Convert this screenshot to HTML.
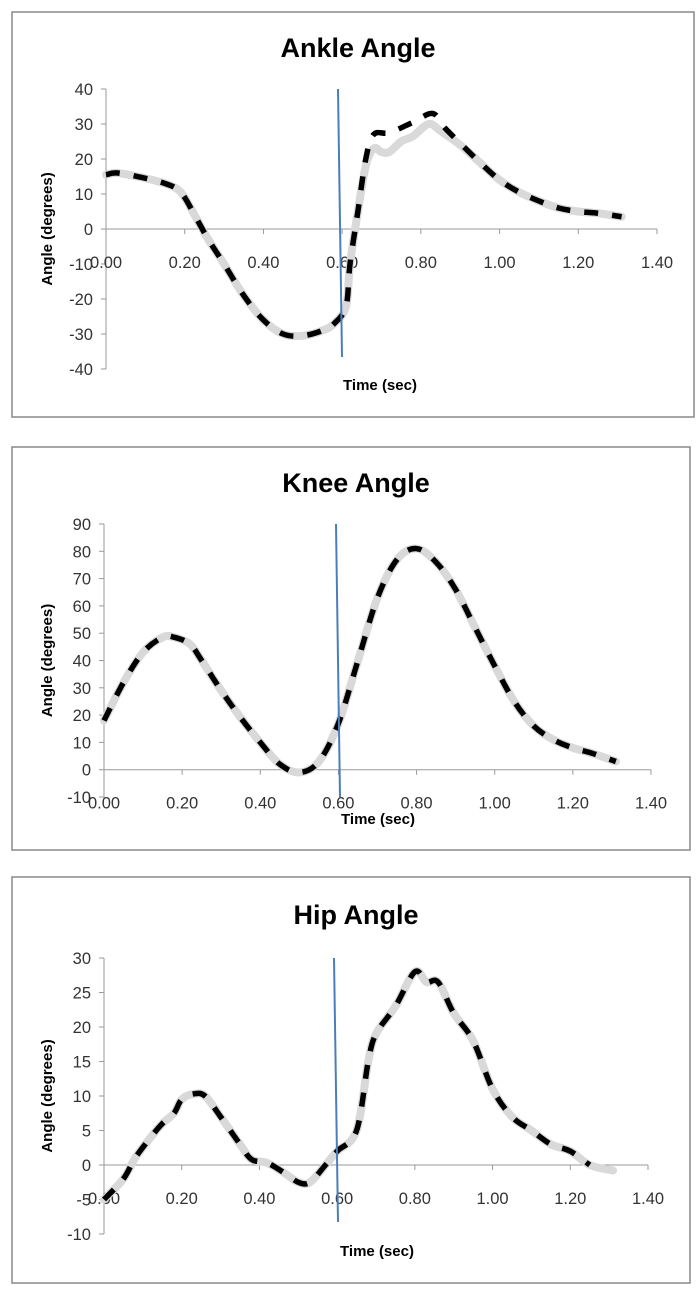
<!DOCTYPE html>
<html><head><meta charset="utf-8">
<style>
body{margin:0;background:#fff;width:700px;height:1295px;overflow:hidden;font-family:"Liberation Sans",sans-serif}
svg{position:absolute;left:0;top:0}
</style></head>
<body>
<svg id="svg" width="700" height="1295"></svg>
<script>
const xTicks=[0,0.2,0.4,0.6,0.8,1.0,1.2,1.4];
const ankleYTicks=[40,30,20,10,0,-10,-20,-30,-40];
const ankleGrayX=[0,0.03,0.1,0.15,0.18,0.2,0.23,0.26,0.3,0.35,0.4,0.45,0.5,0.55,0.58,0.61,0.62,0.64,0.66,0.68,0.7,0.72,0.75,0.78,0.82,0.85,0.9,0.95,1.0,1.05,1.1,1.15,1.2,1.25,1.31];
const ankleGrayY=[15.5,16,14.5,13,11.5,9,3,-3,-10,-19,-26,-30,-30.5,-29,-27,-22,-10,5,18,23,22,22,25,26.5,30,28,24,19,14,10.5,8,6,5,4.5,3.5];
const ankleBlackX=[0,0.03,0.1,0.15,0.18,0.2,0.23,0.26,0.3,0.35,0.4,0.45,0.5,0.55,0.58,0.61,0.62,0.64,0.66,0.68,0.72,0.78,0.83,0.86,0.9,0.95,1.0,1.05,1.1,1.15,1.2,1.25,1.31];
const ankleBlackY=[15.5,16,14.5,13,11.5,9,3,-3,-10,-19,-26,-30,-30.5,-29,-27,-22,-10,5,20,27,27.5,30.5,33,29,24.5,19,14,10.5,8,6,5,4.5,3.5];
const kneeYTicks=[90,80,70,60,50,40,30,20,10,0,-10];
const kneeX=[0,0.05,0.1,0.15,0.18,0.22,0.25,0.3,0.35,0.4,0.45,0.5,0.55,0.6,0.65,0.7,0.75,0.8,0.85,0.9,0.95,1.0,1.05,1.1,1.15,1.2,1.25,1.31];
const kneeY=[18,32,43,48.5,48.5,46,40,29,19,10,2,-1,3,17,40,63,77,81,76,66,52,38,25,16,11,8,6,3];
const hipYTicks=[30,25,20,15,10,5,0,-5,-10];
const hipGrayX=[0,0.05,0.08,0.12,0.15,0.18,0.2,0.23,0.26,0.3,0.35,0.38,0.42,0.46,0.5,0.53,0.57,0.6,0.65,0.68,0.7,0.75,0.8,0.83,0.86,0.9,0.95,1.0,1.05,1.1,1.15,1.2,1.25,1.31];
const hipGrayY=[-5,-2,1,4,6,7.5,9.5,10.3,10,7,3,0.8,0.3,-1,-2.5,-2.5,0,2,5,15,19,23,28,26.5,26.5,22,18,11,7,5,3,2,0,-0.8];
const hipBlackX=hipGrayX.slice(0,33);
const hipBlackY=hipGrayY.slice(0,33);

const svg=document.getElementById('svg');
const NS='http://www.w3.org/2000/svg';
function el(t,a,p){const e=document.createElementNS(NS,t);for(const k in a)e.setAttribute(k,a[k]);(p||svg).appendChild(e);return e;}
function pathD(xs,ys,sx,sy){
  const P=xs.map((x,i)=>[sx(x),sy(ys[i])]);
  let d='M'+P[0][0]+','+P[0][1];
  for(let i=0;i<P.length-1;i++){
    const p0=P[i-1]||P[i],p1=P[i],p2=P[i+1],p3=P[i+2]||P[i+1];
    const c1=[p1[0]+(p2[0]-p0[0])/6,p1[1]+(p2[1]-p0[1])/6];
    const c2=[p2[0]-(p3[0]-p1[0])/6,p2[1]-(p3[1]-p1[1])/6];
    d+=' C'+c1+' '+c2+' '+p2;
  }
  return d;
}
function chart(o){
  const g=el('g',{});
  
  
  const box=el('rect',{x:o.box[0],y:o.box[1],width:o.box[2],height:o.box[3],fill:'#fff',stroke:'#888','stroke-width':1.5},g);
  
  const sx=v=>o.x0+(v-0)/1.4*(o.x1-o.x0);
  const sy=v=>o.yTop+(o.ymax-v)/(o.ymax-o.ymin)*(o.yBot-o.yTop);
  const t=el('text',{x:(o.box[0]+o.box[0]+o.box[2])/2+5,y:o.titleY,'text-anchor':'middle','font-size':27,'font-weight':'bold',fill:'#000'},g);
  t.textContent=o.title;
  const ya=el('line',{x1:o.x0,y1:o.yTop,x2:o.x0,y2:o.yBot,stroke:'#999','stroke-width':1},g);
  
  o.yTicks.forEach(v=>{
    el('line',{x1:o.x0-5,y1:sy(v),x2:o.x0,y2:sy(v),stroke:'#999'},g);
    const tx=el('text',{x:o.x0-13,y:sy(v)+6,'text-anchor':'end','font-size':16.5,fill:'#333'},g);
    tx.textContent=v;
  });
  const xa=el('line',{x1:o.x0,y1:sy(0),x2:o.x1,y2:sy(0),stroke:'#999'},g);
  
  xTicks.forEach(v=>{
    el('line',{x1:sx(v),y1:sy(0),x2:sx(v),y2:sy(0)+5,stroke:'#999'},g);
    const tx=el('text',{x:sx(v),y:sy(0)+39,'text-anchor':'middle','font-size':16.5,fill:'#333'},g);
    tx.textContent=v.toFixed(2);
  });
  const xt=el('text',{x:o.xTitleX,y:o.xTitleY,'text-anchor':'middle','font-size':15,'font-weight':'bold'},g);
  xt.textContent='Time (sec)';
  const yc=(o.yTop+o.yBot)/2;
  const yt=el('text',{x:0,y:0,transform:'translate(52,'+yc+') rotate(-90)','text-anchor':'middle','font-size':15,'font-weight':'bold'},g);
  yt.textContent='Angle (degrees)';
  const gp=el('path',{d:pathD(o.gx,o.gy,sx,sy),fill:'none',stroke:'#d9d9d9','stroke-width':8,'stroke-linecap':'round'},g);
  
  const bp=el('path',{d:pathD(o.bx,o.by,sx,sy),fill:'none',stroke:'#000','stroke-width':5.5,'stroke-dasharray':'14 14'},g);
  
  const bl=el('line',{x1:o.blue[0],y1:o.blue[1],x2:o.blue[2],y2:o.blue[3],stroke:'#4a7ebb','stroke-width':2},g);
  
}
chart({name:'ankle',title:'Ankle Angle',box:[12,12,682,405],titleY:57,x0:106,x1:657,yTop:89,yBot:369,ymax:40,ymin:-40,yTicks:ankleYTicks,xTitleX:380,xTitleY:390,gx:ankleGrayX,gy:ankleGrayY,bx:ankleBlackX,by:ankleBlackY,blue:[338,89,342,357]});
chart({name:'knee',title:'Knee Angle',box:[12,447,678,403],titleY:492,x0:104,x1:651,yTop:524,yBot:797,ymax:90,ymin:-10,yTicks:kneeYTicks,xTitleX:378,xTitleY:824,gx:kneeX,gy:kneeY,bx:kneeX,by:kneeY,blue:[336,524,340,797]});
chart({name:'hip',title:'Hip Angle',box:[12,877,678,406],titleY:924,x0:104,x1:648,yTop:958,yBot:1234,ymax:30,ymin:-10,yTicks:hipYTicks,xTitleX:377,xTitleY:1256,gx:hipGrayX,gy:hipGrayY,bx:hipBlackX,by:hipBlackY,blue:[334,958,338,1222]});
</script>
</body></html>
